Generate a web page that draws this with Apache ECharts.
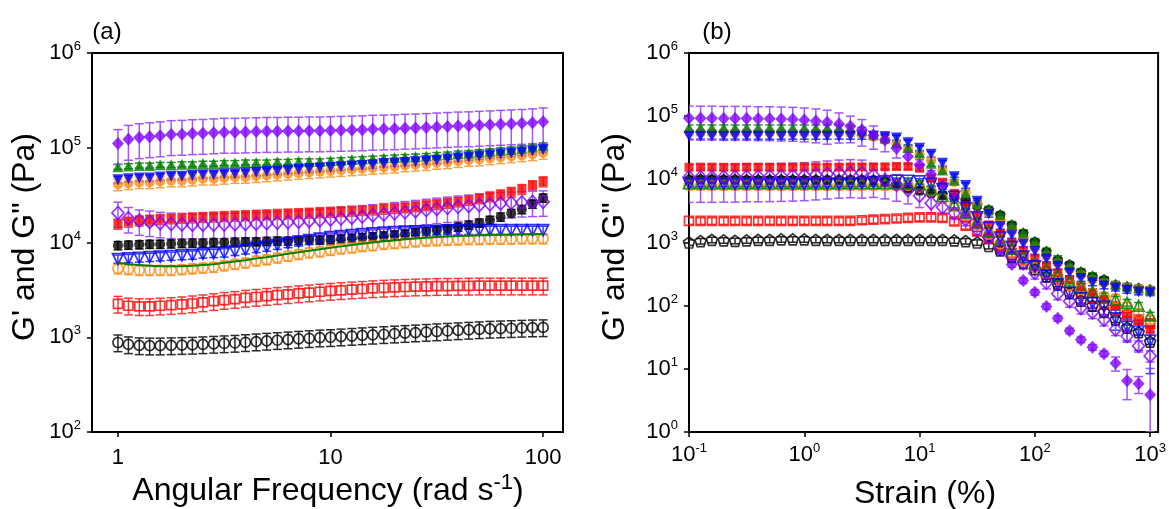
<!DOCTYPE html>
<html>
<head>
<meta charset="utf-8">
<script src="https://cdn.jsdelivr.net/npm/echarts@6/dist/echarts.min.js"></script>
<style>
  html, body { margin: 0; padding: 0; background: #ffffff; }
  #chart { width: 1169px; height: 509px; }
</style>
</head>
<body>
<div id="chart"></div>
<script>
// ---------- (a) frequency sweep: angular frequency, rad/s ----------
const freq = [1, 1.12, 1.26, 1.41, 1.58, 1.78, 2, 2.24, 2.51, 2.82, 3.16, 3.55, 3.98, 4.47, 5.01, 5.62, 6.31, 7.08, 7.94, 8.91,
  10, 11.2, 12.6, 14.1, 15.8, 17.8, 20, 22.4, 25.1, 28.2, 31.6, 35.5, 39.8, 44.7, 50.1, 56.2, 63.1, 70.8, 79.4, 89.1, 100];

// storage modulus G' (filled symbols), Pa
const aBlackStorage = [9300, 9400, 9500, 9600, 9600, 9700, 9800, 9900, 9900, 10000, 10000, 10100, 10200, 10200, 10300, 10400, 10400, 10500, 10600, 10600,
  10700, 10900, 11100, 11300, 11500, 11700, 12000, 12300, 12700, 13100, 13500, 14000, 14600, 15300, 16100, 17200, 18600, 20300, 22300, 25500, 29500];
const aRedStorage = [15700, 16500, 17000, 17300, 17600, 17900, 18100, 18300, 18500, 18700, 18900, 19100, 19300, 19500, 19700, 19900, 20100, 20300, 20500, 20800,
  21000, 21300, 21600, 21900, 22200, 22600, 23000, 23400, 24000, 24600, 25300, 26100, 27000, 28000, 29200, 30500, 32000, 34000, 36500, 40000, 44000];
const aOrangeStorage = [41000, 42000, 43000, 43000, 44000, 45000, 45000, 46000, 47000, 47000, 48000, 49000, 49000, 50000, 51000, 52000, 53000, 54000, 55000, 56000,
  57000, 58000, 59000, 60000, 61000, 62000, 63000, 65000, 66000, 67000, 69000, 70000, 72000, 74000, 75000, 77000, 79000, 81000, 83000, 85000, 88000];
const aGreenStorage = [63000, 64000, 65000, 65000, 66000, 66000, 67000, 67000, 68000, 68000, 69000, 69000, 70000, 70000, 70000, 71000, 71000, 72000, 72000, 72000,
  73000, 74000, 75000, 76000, 77000, 78000, 79000, 80000, 81000, 82000, 84000, 85000, 87000, 88000, 90000, 92000, 94000, 96000, 99000, 102000, 105000];
const aBlueStorage = [46000, 47000, 48000, 48000, 49000, 50000, 50000, 51000, 52000, 52000, 53000, 53000, 54000, 55000, 56000, 57000, 58000, 59000, 60000, 61000,
  62000, 63000, 64000, 65000, 66000, 68000, 69000, 70000, 71000, 73000, 74000, 76000, 78000, 80000, 82000, 84000, 86000, 88000, 90000, 93000, 96000];
const aVioletStorage = [111000, 123000, 128000, 131000, 134000, 138000, 139000, 141000, 142000, 144000, 146000, 146000, 147000, 148000, 149000, 149000, 150000, 150000, 151000, 151000,
  152000, 153000, 154000, 155000, 157000, 158000, 159000, 161000, 162000, 164000, 166000, 168000, 170000, 171000, 173000, 175000, 177000, 179000, 181000, 184000, 188000];

// loss modulus G'' (open symbols), Pa
const aBlackLoss = [880, 840, 820, 815, 815, 820, 825, 830, 840, 850, 860, 870, 885, 900, 915, 930, 945, 960, 975, 990,
  1000, 1015, 1030, 1045, 1060, 1075, 1090, 1105, 1120, 1135, 1150, 1165, 1180, 1195, 1210, 1225, 1235, 1245, 1255, 1265, 1270];
const aRedLoss = [2250, 2150, 2120, 2120, 2150, 2180, 2220, 2270, 2330, 2400, 2470, 2530, 2600, 2660, 2720, 2780, 2840, 2900, 2960, 3020,
  3080, 3130, 3180, 3230, 3280, 3320, 3360, 3390, 3420, 3440, 3460, 3470, 3480, 3490, 3500, 3500, 3500, 3500, 3500, 3500, 3500];
const aOrangeLoss = [5300, 5200, 5100, 5100, 5100, 5100, 5200, 5300, 5400, 5500, 5700, 5900, 6100, 6400, 6600, 6900, 7200, 7500, 7800, 8000,
  8300, 8600, 8800, 9100, 9300, 9600, 9800, 10000, 10200, 10400, 10500, 10600, 10700, 10800, 10800, 10900, 10900, 10900, 11000, 11000, 11000];
const aGreenLoss = [6100, 5900, 5800, 5700, 5600, 5600, 5600, 5700, 5800, 5900, 6100, 6300, 6500, 6800, 7000, 7300, 7600, 7900, 8200, 8500,
  8800, 9100, 9400, 9700, 10000, 10300, 10500, 10800, 11000, 11200, 11400, 11600, 11700, 11800, 11900, 12000, 12100, 12100, 12200, 12200, 12300];
const aBlueLoss = [6700, 6800, 6900, 7000, 7100, 7200, 7300, 7400, 7600, 7700, 7800, 8100, 8400, 8700, 9000, 9400, 9800, 10200, 10600, 11000,
  11400, 11700, 12000, 12300, 12500, 12700, 12900, 13000, 13100, 13200, 13300, 13400, 13400, 13500, 13500, 13500, 13500, 13500, 13500, 13500, 13500];
const aVioletLoss = [20500, 18000, 17000, 16500, 16000, 15700, 15500, 15400, 15400, 15400, 15500, 15600, 15700, 15800, 16000, 16200, 16400, 16600, 16900, 17200,
  17500, 17900, 18300, 18800, 19300, 19800, 20300, 20800, 21400, 22000, 22600, 23200, 23800, 24300, 24800, 25300, 25800, 26200, 26500, 26800, 27000];

// ---------- (b) amplitude sweep: strain, % ----------
const strain = [0.1, 0.126, 0.158, 0.2, 0.251, 0.316, 0.398, 0.501, 0.631, 0.794, 1, 1.26, 1.58, 2, 2.51, 3.16, 3.98, 5.01, 6.31, 7.94,
  10, 12.6, 15.8, 20, 25.1, 31.6, 39.8, 50.1, 63.1, 79.4, 100, 126, 158, 200, 251, 316, 398, 501, 631, 794, 1000];

const bBlackStorage = [10100, 10200, 10200, 10100, 10100, 10000, 10000, 10000, 10000, 10000, 10000, 10000, 10000, 10000, 10000, 10000, 9900, 9500, 8500, 7300,
  6800, 6200, 5800, 5300, 4600, 3900, 3300, 2750, 1900, 1400, 1030, 720, 530, 450, 340, 290, 260, 215, 200, 190, 180];
const bRedStorage = [15500, 15600, 15600, 15500, 15500, 15600, 15600, 15500, 15500, 15500, 15600, 15600, 15600, 15600, 15700, 15700, 15700, 15800, 16000, 16000,
  15000, 10400, 9000, 6000, 3800, 2600, 1900, 1400, 1000, 750, 560, 420, 330, 260, 200, 160, 125, 100, 75, 58, 42];
const bOrangeStorage = [55000, 55000, 55000, 55000, 55000, 55000, 55000, 55000, 55000, 55000, 55000, 55000, 55000, 55000, 54000, 52000, 47000, 42000, 36000, 30000,
  25000, 20000, 14000, 9000, 6000, 4000, 3000, 2200, 1600, 1150, 850, 620, 480, 380, 310, 260, 230, 210, 195, 185, 175];
const bGreenStorage = [66000, 66000, 66000, 66000, 66000, 66000, 66000, 66000, 66000, 66000, 66000, 66000, 66000, 66000, 65000, 60000, 52000, 45000, 38000, 32000,
  26000, 18000, 14000, 9800, 6100, 4200, 3400, 2750, 1950, 1450, 1050, 740, 560, 450, 350, 300, 260, 220, 205, 190, 180];
const bBlueStorage = [48000, 48000, 48000, 48000, 48000, 48000, 48000, 48000, 48000, 48000, 48000, 48000, 48000, 48000, 48000, 48000, 48000, 47000, 45000, 38000,
  31000, 25000, 18000, 11000, 8000, 4500, 2800, 1800, 1300, 950, 720, 550, 420, 330, 270, 230, 205, 190, 175, 165, 160];
const bVioletStorage = [93000, 93000, 93000, 92000, 92000, 92000, 91000, 91000, 90000, 89000, 87000, 84000, 80000, 75000, 69000, 61000, 50000, 42000, 31000, 23000,
  17000, 12000, 7900, 5000, 3000, 1900, 1200, 770, 450, 250, 163, 97, 63, 40, 29, 22, 17.4, 12.3, 6.5, 5.8, 3.9];

const bBlackLoss = [1000, 1050, 1100, 1080, 1060, 1080, 1100, 1100, 1120, 1120, 1120, 1100, 1100, 1100, 1100, 1100, 1100, 1100, 1100, 1100,
  1100, 1100, 1100, 1080, 1050, 1000, 880, 750, 600, 480, 380, 290, 220, 160, 120, 100, 80, 60, 45, 38, 27];
const bRedLoss = [2200, 2200, 2200, 2200, 2200, 2200, 2200, 2200, 2200, 2200, 2200, 2200, 2200, 2200, 2200, 2250, 2300, 2350, 2400, 2450,
  2500, 2500, 2450, 2150, 1850, 1500, 1150, 880, 680, 530, 420, 330, 260, 205, 160, 130, 105, 85, 70, 60, 52];
const bOrangeLoss = [8000, 8000, 8000, 8000, 8000, 8000, 8000, 8000, 8000, 8000, 8000, 8000, 8000, 8000, 8000, 8000, 8000, 8000, 8000, 8000,
  7500, 6500, 5000, 3700, 2700, 1900, 1350, 950, 700, 520, 400, 320, 260, 210, 180, 160, 140, 130, 97, 76, 60];
const bGreenLoss = [8700, 8700, 8700, 8700, 8700, 8700, 8700, 8700, 8700, 8700, 8700, 8700, 8700, 8700, 8700, 8700, 8700, 8700, 8700, 8600,
  8400, 7000, 5500, 4000, 3000, 2100, 1500, 1100, 800, 600, 470, 370, 300, 240, 200, 165, 140, 125, 112, 100, 70];
const bBlueLoss = [8500, 8500, 8500, 8500, 8500, 8500, 8500, 8500, 8500, 8500, 8500, 8500, 8500, 8500, 8500, 8700, 9000, 9300, 9500, 9500,
  9300, 8500, 7000, 5300, 3500, 2500, 1700, 1200, 850, 600, 420, 300, 220, 160, 130, 110, 97, 63, 46, 39, 28];
const bVioletLoss = [10800, 10800, 10800, 10900, 10900, 11000, 11000, 11100, 11200, 11300, 11500, 11800, 12200, 12600, 12800, 12600, 11500, 9800, 8200, 6800,
  5500, 4200, 3600, 2900, 2300, 1600, 1200, 820, 600, 470, 330, 230, 155, 118, 92, 78, 60, 42, 33, 23, 16];

// relative standard deviations where they change along the sweep
const bVioletStorageSd = [0.55, 0.55, 0.55, 0.55, 0.55, 0.55, 0.55, 0.55, 0.55, 0.55, 0.55, 0.55, 0.55, 0.5, 0.45, 0.45, 0.4, 0.35, 0.3, 0.25,
  0.2, 0.15, 0.12, 0.1, 0.1, 0.1, 0.1, 0.1, 0.1, 0.1, 0.1, 0.1, 0.1, 0.1, 0.1, 0.1, 0.1, 0.25, 0.5, 0.3, 1.6];
const bVioletLossSd = [0.6, 0.6, 0.6, 0.6, 0.6, 0.6, 0.6, 0.6, 0.6, 0.6, 0.6, 0.6, 0.6, 0.6, 0.6, 0.6, 0.55, 0.5, 0.45, 0.4,
  0.35, 0.3, 0.2, 0.2, 0.2, 0.2, 0.2, 0.2, 0.2, 0.2, 0.2, 0.2, 0.2, 0.2, 0.2, 0.2, 0.2, 0.2, 0.2, 0.2, 0.2];
const bBlueLossSd = [0.1, 0.1, 0.1, 0.1, 0.1, 0.1, 0.1, 0.1, 0.1, 0.1, 0.1, 0.1, 0.1, 0.1, 0.1, 0.1, 0.1, 0.1, 0.1, 0.1,
  0.1, 0.1, 0.15, 0.2, 0.3, 0.4, 0.25, 0.2, 0.2, 0.2, 0.2, 0.2, 0.2, 0.2, 0.2, 0.25, 0.3, 0.35, 0.4, 0.5, 0.7];

// tick positions
const freqTicks = [1, 10, 100];

// ---------- styling ----------
const FONT = '"Liberation Sans", Arial, Helvetica, sans-serif';
const COLOR = {
  black: '#000000', red: '#ff0000', orange: '#ff8c1a', green: '#008000', blue: '#0000ff', violet: '#8000ff'
};
const BAR = {
  black: '#2b2b2b', red: '#ff3a3a', orange: '#f7a447', green: '#2f8f2f', blue: '#3b3bff', violet: '#a255ff'
};
const SYMBOL = {
  circle: 'circle',
  square: 'rect',
  up: 'triangle',
  down: 'path://M0,0L10,0L5,9Z',
  diamond: 'diamond',
  pentagon: 'path://M5,0L10,3.6L8.1,9.5L1.9,9.5L0,3.6Z'
};
const SIZE = { circle: 10, square: 9, up: 11, down: 11, diamond: [12, 13], pentagon: 11 };

// draw order: storage first, then loss
const panelA = [
  { y: aBlackStorage, sd: 0.1, c: 'black', s: 'circle', fill: true },
  { y: aRedStorage, sd: 0.12, c: 'red', s: 'square', fill: true },
  { y: aOrangeStorage, sd: 0.14, c: 'orange', s: 'circle', fill: true },
  { y: aGreenStorage, sd: 0.06, c: 'green', s: 'up', fill: true },
  { y: aBlueStorage, sd: 0.08, c: 'blue', s: 'down', fill: true },
  { y: aVioletStorage, sd: 0.4, c: 'violet', s: 'diamond', fill: true },
  { y: aBlackLoss, sd: 0.2, c: 'black', s: 'circle', fill: false },
  { y: aRedLoss, sd: 0.2, c: 'red', s: 'square', fill: false },
  { y: aOrangeLoss, sd: 0.12, c: 'orange', s: 'circle', fill: false },
  { y: aGreenLoss, sd: 0, c: 'green', s: 'up', fill: false, line: true },
  { y: aBlueLoss, sd: 0.1, c: 'blue', s: 'down', fill: false },
  { y: aVioletLoss, sd: 0.3, c: 'violet', s: 'diamond', fill: false }
];
const panelB = [
  { y: bBlackStorage, sd: 0.1, c: 'black', s: 'pentagon', fill: true },
  { y: bRedStorage, sd: 0.1, c: 'red', s: 'square', fill: true },
  { y: bOrangeStorage, sd: 0.1, c: 'orange', s: 'circle', fill: true },
  { y: bGreenStorage, sd: 0.1, c: 'green', s: 'up', fill: true },
  { y: bBlueStorage, sd: 0.1, c: 'blue', s: 'down', fill: true },
  { y: bVioletStorage, sd: bVioletStorageSd, c: 'violet', s: 'diamond', fill: true },
  { y: bBlackLoss, sd: 0.1, c: 'black', s: 'pentagon', fill: false },
  { y: bRedLoss, sd: 0.12, c: 'red', s: 'square', fill: false },
  { y: bOrangeLoss, sd: 0.15, c: 'orange', s: 'circle', fill: false },
  { y: bGreenLoss, sd: 0.12, c: 'green', s: 'up', fill: false },
  { y: bBlueLoss, sd: bBlueLossSd, c: 'blue', s: 'down', fill: false },
  { y: bVioletLoss, sd: bVioletLossSd, c: 'violet', s: 'diamond', fill: false }
];

function buildSeries(defs, xs, axis, yMin) {
  const out = [];
  defs.forEach(d => {
    const sdAt = i => (Array.isArray(d.sd) ? d.sd[i] : d.sd);
    if (!d.line && (Array.isArray(d.sd) || d.sd > 0)) {
      const bars = d.y.map((v, i) => {
        const e = v * sdAt(i);
        return [xs[i], Math.max(v - e, yMin), v + e];
      });
      const stroke = BAR[d.c];
      out.push({
        type: 'custom',
        xAxisIndex: axis, yAxisIndex: axis,
        silent: true, clip: true,
        data: bars,
        encode: { x: 0, y: [1, 2] },
        renderItem: (params, api) => {
          const x = api.value(0);
          const top = api.coord([x, api.value(2)]);
          const bot = api.coord([x, api.value(1)]);
          const w = 4.5;
          const st = { stroke: stroke, lineWidth: 1.5 };
          return {
            type: 'group',
            children: [
              { type: 'line', shape: { x1: top[0], y1: top[1], x2: bot[0], y2: bot[1] }, style: st },
              { type: 'line', shape: { x1: top[0] - w, y1: top[1], x2: top[0] + w, y2: top[1] }, style: st },
              { type: 'line', shape: { x1: bot[0] - w, y1: bot[1], x2: bot[0] + w, y2: bot[1] }, style: st }
            ]
          };
        }
      });
    }
    const pts = d.y.map((v, i) => [xs[i], v]);
    if (d.line) {
      out.push({
        type: 'line', xAxisIndex: axis, yAxisIndex: axis, data: pts,
        symbol: 'none', silent: true,
        lineStyle: { color: COLOR[d.c], width: 2 }
      });
    } else {
      out.push({
        type: 'scatter', xAxisIndex: axis, yAxisIndex: axis, data: pts, silent: true,
        symbol: SYMBOL[d.s], symbolSize: SIZE[d.s],
        itemStyle: d.fill
          ? { color: COLOR[d.c], borderWidth: 0 }
          : { color: 'rgba(255,255,255,0)', borderColor: COLOR[d.c], borderWidth: 1.7 }
      });
    }
  });
  return out;
}

const rich = {
  b: { fontSize: 22, fontFamily: FONT, color: '#000', lineHeight: 26 },
  s: { fontSize: 13, fontFamily: FONT, color: '#000', verticalAlign: 'top', lineHeight: 14 }
};
const pow10 = v => '{b|10}{s|' + Math.round(Math.log10(v)) + '}';

const frame = { show: true, lineStyle: { color: '#000', width: 2 } };
const ticks = { show: true, inside: false, length: 5, lineStyle: { color: '#000', width: 1.5 } };

function logAxis(grid, min, max, label) {
  return {
    type: 'log', logBase: 10, gridIndex: grid, min: min, max: max,
    axisLine: frame, axisTick: ticks, splitLine: { show: false }, minorTick: { show: false },
    axisLabel: Object.assign({ showMinLabel: true, showMaxLabel: true }, label)
  };
}

const option = {
  backgroundColor: '#ffffff',
  animation: false,
  grid: [
    { left: 92, top: 53, width: 471, height: 379, show: true, borderColor: '#000', borderWidth: 2, backgroundColor: 'transparent' },
    { left: 689, top: 53, width: 470, height: 379, show: true, borderColor: '#000', borderWidth: 2, backgroundColor: 'transparent' }
  ],
  xAxis: [
    logAxis(0, 0.755, 124, {
      margin: 15, fontSize: 22, fontFamily: FONT, color: '#000',
      showMinLabel: false, showMaxLabel: false,
      formatter: v => (freqTicks.indexOf(Math.round(v)) >= 0 ? String(Math.round(v)) : '')
    }),
    logAxis(1, 0.1, 1172, { margin: 10, showMaxLabel: false, formatter: pow10, rich: rich })
  ],
  yAxis: [
    logAxis(0, 100, 1e6, { margin: 11, formatter: pow10, rich: rich }),
    logAxis(1, 1, 1e6, { margin: 11, formatter: pow10, rich: rich })
  ],
  series: buildSeries(panelA, freq, 0, 100).concat(buildSeries(panelB, strain, 1, 1)),
  graphic: [
    { type: 'text', x: 107, y: 32, style: { text: '(a)', font: '24px ' + FONT, fill: '#000', textAlign: 'center', textVerticalAlign: 'middle' } },
    { type: 'text', x: 717, y: 32, style: { text: '(b)', font: '24px ' + FONT, fill: '#000', textAlign: 'center', textVerticalAlign: 'middle' } },
    { type: 'text', x: 25, y: 237, rotation: Math.PI / 2,
      style: { text: 'G\' and G" (Pa)', font: '32px ' + FONT, fill: '#000', textAlign: 'center', textVerticalAlign: 'middle' } },
    { type: 'text', x: 615, y: 237, rotation: Math.PI / 2,
      style: { text: 'G\' and G" (Pa)', font: '32px ' + FONT, fill: '#000', textAlign: 'center', textVerticalAlign: 'middle' } },
    { type: 'text', x: 328, y: 491,
      style: {
        text: '{n|Angular Frequency (rad s}{s|-1}{n|)}', textAlign: 'center', textVerticalAlign: 'middle',
        rich: {
          n: { fontSize: 32, fontFamily: FONT, fill: '#000', color: '#000', lineHeight: 38 },
          s: { fontSize: 22, fontFamily: FONT, fill: '#000', color: '#000', verticalAlign: 'top', lineHeight: 22 }
        }
      } },
    { type: 'text', x: 925, y: 494,
      style: { text: 'Strain (%)', font: '32px ' + FONT, fill: '#000', textAlign: 'center', textVerticalAlign: 'middle' } }
  ]
};

const chart = echarts.init(document.getElementById('chart'), null, { renderer: 'canvas' });
chart.setOption(option);
</script>
</body>
</html>
